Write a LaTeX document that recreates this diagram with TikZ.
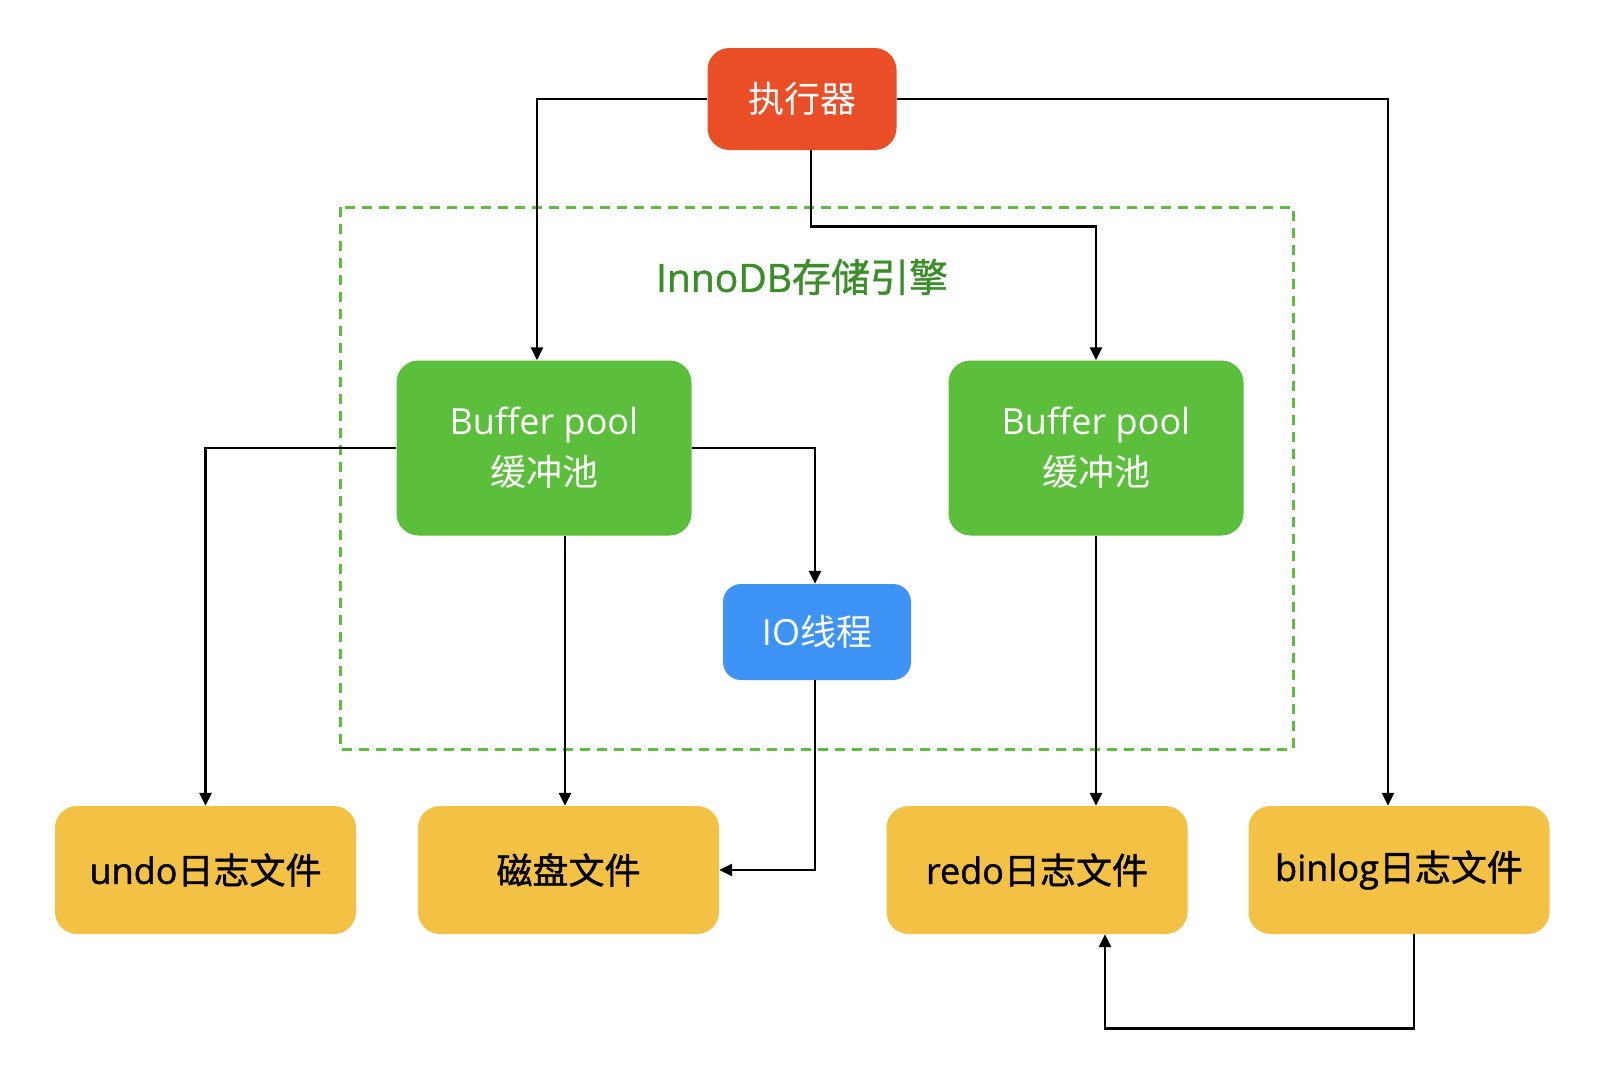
\documentclass[tikz,border=0pt]{standalone}
\usepackage{fontspec}
\setmainfont{Noto Sans CJK SC}
\newfontfamily\lat{Open Sans}
\newfontfamily\cjkm[RawFeature={embolden=1.2}]{Noto Sans CJK SC}
\newfontfamily\latm[RawFeature={embolden=1.2}]{Open Sans}
\usetikzlibrary{arrows.meta}
\definecolor{cred}{HTML}{E94E27}
\definecolor{cgreen}{HTML}{5BBF3C}
\definecolor{cdash}{HTML}{5BBF3C}
\definecolor{ctitle}{HTML}{3A8F28}
\definecolor{cblue}{HTML}{3D94F6}
\definecolor{cyellow}{HTML}{F3C143}
\begin{document}
\begin{tikzpicture}[x=1pt,y=-1pt,
  box/.style={rounded corners=22pt, inner sep=0pt, align=center, font=\fontsize{36}{51}\selectfont},
  topbox/.style={box, text=white},
  filebox/.style={box, fill=cyellow, text=black, minimum width=301pt, minimum height=128pt, font=\fontsize{36}{46}\selectfont\cjkm},
  conn/.style={line width=2.6pt, -{Triangle[length=13pt,width=12pt]}}]
\useasboundingbox (0,0) rectangle (1604,1080);
\fill[white] (0,0) rectangle (1604,1080);
\draw[cdash, line width=3pt, dash pattern=on 10pt off 7pt] (340,207) rectangle (1293,749);
\node[text=ctitle, font=\fontsize{39}{46}\selectfont\cjkm] (title) at (802,277) {{\latm InnoDB}存储引擎};
\node[topbox, fill=cred, minimum width=189pt, minimum height=102pt] (exec) at (802,99) {执行器};
\node[topbox, fill=cgreen, minimum width=295pt, minimum height=175pt] (bp1) at (544,448) {{\lat Buffer pool}\\缓冲池};
\node[topbox, fill=cgreen, minimum width=295pt, minimum height=175pt] (bp2) at (1096,448) {{\lat Buffer pool}\\缓冲池};
\node[topbox, fill=cblue, minimum width=188pt, minimum height=96pt, rounded corners=18pt] (io) at (817,632) {{\lat IO}线程};
\node[filebox] (undo) at (205.5,870) {{\latm undo}日志文件};
\node[filebox] (disk) at (568.5,870) {磁盘文件};
\node[filebox] (redo) at (1037,870) {{\latm redo}日志文件};
\node[filebox] (binlog) at (1399,870) {{\latm binlog}日志文件};
\draw[conn] (exec.west) -| ([xshift=-7pt]bp1.north);
\draw[conn] ([xshift=9pt]exec.south) -- ++(0,76) -| (bp2.north);
\draw[conn] (exec.east) -| ([xshift=-11pt]binlog.north);
\draw[conn] (bp1.west) -| (undo.north);
\draw[conn] ([xshift=21pt]bp1.south) -- ([xshift=21pt]bp1.south |- disk.north);
\draw[conn] (bp1.east) -| ([xshift=-2pt]io.north);
\draw[conn] ([xshift=-2pt]io.south) |- (disk.east);
\draw[conn] (bp2.south) -- (bp2.south |- redo.north);
\draw[conn] ([xshift=15pt]binlog.south) -- ++(0,94) -| ([xshift=68pt]redo.south);
\end{tikzpicture}
\end{document}
